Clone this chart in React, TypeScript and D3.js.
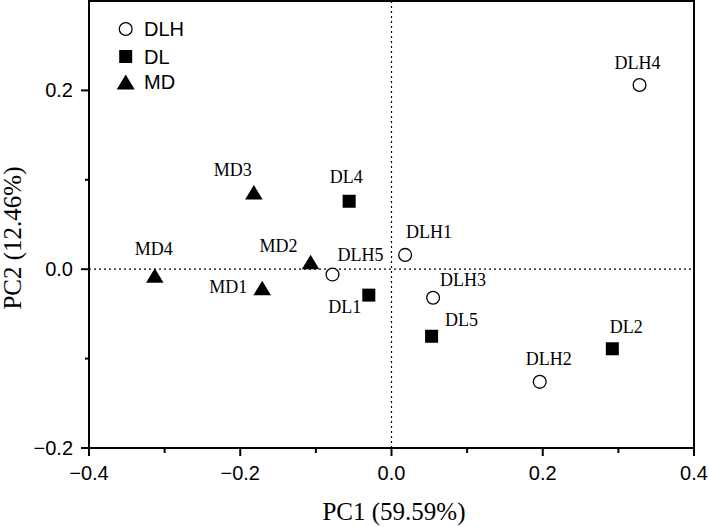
import React from "react";
import * as d3 from "d3";

const groups = ["DLH", "DL", "MD"];
const sampleNames = ["DLH1", "DLH2", "DLH3", "DLH4", "DLH5", "DL1", "DL2", "DL4", "DL5", "MD1", "MD2", "MD3", "MD4"];
const sampleGroups = ["DLH", "DLH", "DLH", "DLH", "DLH", "DL", "DL", "DL", "DL", "MD", "MD", "MD", "MD"];
const pc1Values = [0.018, 0.196, 0.055, 0.328, -0.078, -0.030, 0.292, -0.056, 0.053, -0.171, -0.107, -0.182, -0.313];
const pc2Values = [0.016, -0.126, -0.032, 0.206, -0.006, -0.029, -0.089, 0.076, -0.075, -0.021, 0.008, 0.086, -0.007];
const xTicksMajor = [-0.4, -0.2, 0.0, 0.2, 0.4];
const xTicksMinor = [-0.3, -0.1, 0.1, 0.3];
const yTicksMajor = [-0.2, 0.0, 0.2];
const yTicksMinor = [-0.1, 0.1];
const xTitle = "PC1 (59.59%)";
const yTitle = "PC2 (12.46%)";

// label placement offsets (layout only)
const labelOffsets: Record<string, [number, number]> = {
  DLH1: [24, -17], DLH2: [9, -17], DLH3: [30, -12], DLH4: [-2, -16], DLH5: [28, -14],
  DL1: [-24, 18], DL2: [14, -16], DL4: [-3, -18], DL5: [30, -10],
  MD1: [-34, 5], MD2: [-32, -10], MD3: [-21, -16], MD4: [-1, -20],
};

const W = 709, H = 527;
const left = 89, right = 694, top = 1, bottom = 448;

function Marker({ group, x, y, legend }: { group: string; x: number; y: number; legend?: boolean }) {
  if (group === "DLH") {
    return <circle cx={x} cy={y} r={6.4} fill="#fff" stroke="#000" strokeWidth={1.3} />;
  }
  if (group === "DL") {
    const s = 13;
    return <rect x={x - s / 2} y={y - s / 2} width={s} height={s} fill="#000" />;
  }
  const w = legend ? 18 : 17.5, h = legend ? 15 : 14.5;
  const p = `M${x},${y - h / 2}L${x + w / 2},${y + h / 2}L${x - w / 2},${y + h / 2}Z`;
  return <path d={p} fill="#000" />;
}

export default function App() {
  const xs = d3.scaleLinear().domain([-0.4, 0.4]).range([left, right]);
  const ys = d3.scaleLinear().domain([-0.2, 0.3]).range([bottom, top]);
  const fmt = d3.format(".1f");
  const sans = "'Liberation Sans', Arial, sans-serif";
  const serif = "'Liberation Serif', 'Times New Roman', serif";

  return (
    <svg width={W} height={H} style={{ position: "absolute", left: 0, top: 0, background: "#fff" }}>
      <rect x={0} y={0} width={W} height={H} fill="#fff" />
      {/* zero reference lines */}
      <line x1={xs(0)} x2={xs(0)} y1={top} y2={bottom} stroke="#000" strokeWidth={1.2} strokeDasharray="2,3" />
      <line x1={left} x2={right} y1={ys(0)} y2={ys(0)} stroke="#000" strokeWidth={1.2} strokeDasharray="2,3" />
      {/* frame */}
      <rect x={left} y={top} width={right - left} height={bottom - top} fill="none" stroke="#000" strokeWidth={2} />
      {/* x ticks */}
      {xTicksMajor.map((t) => (
        <g key={"xM" + t}>
          <line x1={xs(t)} x2={xs(t)} y1={bottom} y2={bottom + 8} stroke="#000" strokeWidth={2} />
          <text x={xs(t)} y={480} textAnchor="middle" fontFamily={sans} fontSize={20} fill="#000">{fmt(t)}</text>
        </g>
      ))}
      {xTicksMinor.map((t) => (
        <line key={"xm" + t} x1={xs(t)} x2={xs(t)} y1={bottom} y2={bottom + 5} stroke="#000" strokeWidth={2} />
      ))}
      {/* y ticks */}
      {yTicksMajor.map((t) => (
        <g key={"yM" + t}>
          <line x1={left - 8} x2={left} y1={ys(t)} y2={ys(t)} stroke="#000" strokeWidth={2} />
          <text x={73} y={ys(t)} dy="0.35em" textAnchor="end" fontFamily={sans} fontSize={20} fill="#000">{fmt(t)}</text>
        </g>
      ))}
      {yTicksMinor.map((t) => (
        <line key={"ym" + t} x1={left - 4} x2={left} y1={ys(t)} y2={ys(t)} stroke="#000" strokeWidth={2} />
      ))}
      {/* axis titles */}
      <text x={394} y={520} textAnchor="middle" fontFamily={serif} fontSize={25} fill="#000">{xTitle}</text>
      <text transform={`translate(21,238) rotate(-90)`} textAnchor="middle" fontFamily={serif} fontSize={25} fill="#000">{yTitle}</text>
      {/* points */}
      {sampleNames.map((name, i) => {
        const px = xs(pc1Values[i]);
        const py = ys(pc2Values[i]);
        const off = labelOffsets[name] || [0, -16];
        return (
          <g key={name}>
            <Marker group={sampleGroups[i]} x={px} y={py} />
            <text x={px + off[0]} y={py + off[1]} textAnchor="middle" fontFamily={serif} fontSize={18} fill="#000">{name}</text>
          </g>
        );
      })}
      {/* legend */}
      {groups.map((g, i) => {
        const cy = [29, 56.5, 82][i];
        return (
          <g key={g}>
            <Marker group={g} x={125.7} y={cy} legend />
            <text x={144} y={cy + 7} fontFamily={sans} fontSize={20} fill="#000">{g}</text>
          </g>
        );
      })}
    </svg>
  );
}
